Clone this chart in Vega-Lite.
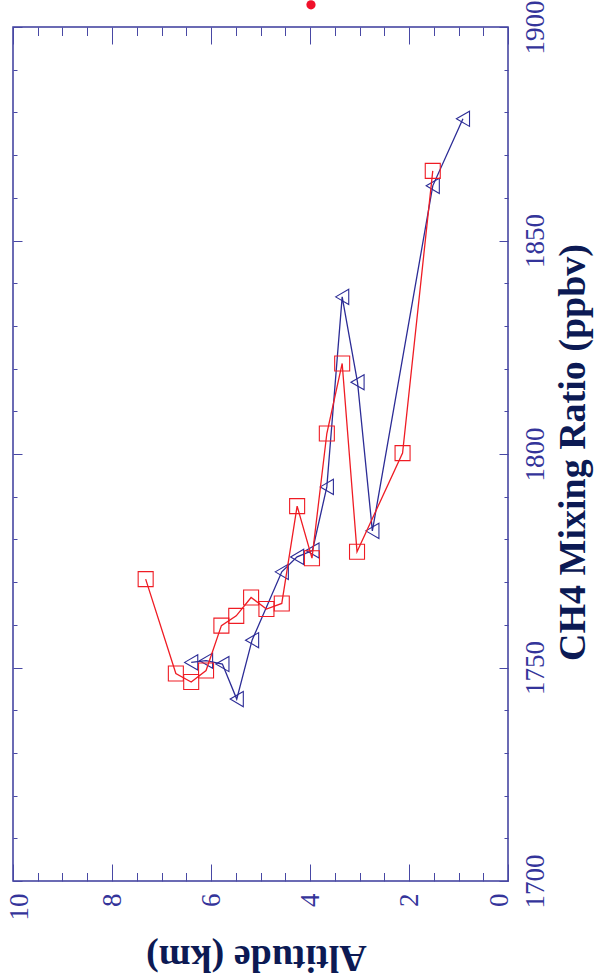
{
  "$schema": "https://vega.github.io/schema/vega-lite/v6.json",
  "width": 495,
  "height": 854,
  "autosize": {"type": "none"},
  "padding": {"left": 13, "top": 27, "right": 89, "bottom": 97},
  "background": "white",
  "config": {
    "view": {"stroke": "#3b3b9c", "strokeWidth": 1.5},
    "axis": {
      "grid": false,
      "domain": false,
      "labelFont": "Liberation Serif",
      "labelFontSize": 27,
      "labelColor": "#34349a",
      "labelFlush": false,
      "labelOverlap": false,
      "titleFont": "Liberation Serif",
      "titleFontSize": 38,
      "titleFontWeight": "bold",
      "titleColor": "#0c1a54",
      "tickColor": "#4848a4",
      "tickWidth": 1
    }
  },
  "datasets": {
    "red": [
      {"alt": 7.32, "ch4": 1770.7},
      {"alt": 6.71, "ch4": 1748.6},
      {"alt": 6.40, "ch4": 1746.6},
      {"alt": 6.10, "ch4": 1749.3},
      {"alt": 5.79, "ch4": 1759.8},
      {"alt": 5.49, "ch4": 1762.1},
      {"alt": 5.19, "ch4": 1766.4},
      {"alt": 4.88, "ch4": 1763.7},
      {"alt": 4.57, "ch4": 1765.0},
      {"alt": 4.26, "ch4": 1787.8},
      {"alt": 3.96, "ch4": 1775.6},
      {"alt": 3.66, "ch4": 1804.8},
      {"alt": 3.35, "ch4": 1821.2},
      {"alt": 3.05, "ch4": 1777.1},
      {"alt": 2.13, "ch4": 1800.2},
      {"alt": 1.52, "ch4": 1866.3}
    ],
    "blue": [
      {"alt": 6.40, "ch4": 1751.2},
      {"alt": 6.10, "ch4": 1751.6},
      {"alt": 5.77, "ch4": 1750.8},
      {"alt": 5.48, "ch4": 1742.6},
      {"alt": 5.17, "ch4": 1756.4},
      {"alt": 4.57, "ch4": 1772.4},
      {"alt": 4.26, "ch4": 1775.9},
      {"alt": 3.95, "ch4": 1777.4},
      {"alt": 3.66, "ch4": 1792.3},
      {"alt": 3.35, "ch4": 1836.8},
      {"alt": 3.04, "ch4": 1816.8},
      {"alt": 2.74, "ch4": 1782.0},
      {"alt": 1.52, "ch4": 1862.8},
      {"alt": 0.91, "ch4": 1878.5}
    ],
    "marker": [
      {"alt": 3.98, "ch4": 1905.2}
    ]
  },
  "layer": [
    {
      "data": {"name": "blue"},
      "mark": {"type": "line", "color": "#2c2c96", "strokeWidth": 1.3},
      "encoding": {
        "x": {
          "field": "alt", "type": "quantitative",
          "scale": {"domain": [0, 10], "reverse": true, "nice": false, "zero": false},
          "axis": {
            "orient": "bottom",
            "values": [0, 2, 4, 6, 8, 10],
            "format": "d",
            "ticks": false,
            "labelAngle": -90,
            "labelAlign": "right",
            "labelBaseline": "middle",
            "labelPadding": 12,
            "labelOffset": {"condition": [{"test": "datum.value === 0", "value": -9}, {"test": "datum.value === 10", "value": 6}], "value": 0},
            "title": "Altitude (km)",
            "titleAngle": 180,
            "titleAlign": "center",
            "titleBaseline": "alphabetic",
            "titleX": 243,
            "titleY": 64
          }
        },
        "y": {
          "field": "ch4", "type": "quantitative",
          "scale": {"domain": [1700, 1900], "nice": false, "zero": false},
          "axis": {
            "orient": "right",
            "values": [1700, 1750, 1800, 1850, 1900],
            "format": "d",
            "ticks": false,
            "labelAngle": -90,
            "labelAlign": "center",
            "labelBaseline": "top",
            "labelPadding": 14,
            "title": "CH4 Mixing Ratio (ppbv)",
            "titleAngle": -90,
            "titleAlign": "center",
            "titleBaseline": "alphabetic",
            "titleX": 76,
            "titleY": 425
          }
        }
      }
    },
    {
      "data": {"name": "blue"},
      "mark": {"type": "point", "shape": "triangle-left", "size": 230, "filled": false, "color": "#2c2c96", "strokeWidth": 1.1, "opacity": 1},
      "encoding": {
        "x": {
          "field": "alt", "type": "quantitative",
          "axis": {"orient": "bottom", "values": [0, 2, 4, 6, 8, 10], "labels": false, "tickSize": -17, "title": null}
        },
        "y": {
          "field": "ch4", "type": "quantitative",
          "axis": {"orient": "right", "values": [1700, 1750, 1800, 1850, 1900], "labels": false, "tickSize": -9, "title": null}
        }
      }
    },
    {
      "data": {"name": "red"},
      "mark": {"type": "line", "color": "#ef1c24", "strokeWidth": 1.3},
      "encoding": {
        "x": {
          "field": "alt", "type": "quantitative",
          "axis": {"orient": "bottom", "values": [0.5, 1, 1.5, 2.5, 3, 3.5, 4.5, 5, 5.5, 6.5, 7, 7.5, 8.5, 9, 9.5], "labels": false, "tickSize": -8.5, "title": null}
        },
        "y": {
          "field": "ch4", "type": "quantitative",
          "axis": {"orient": "right", "values": [1710, 1720, 1730, 1740, 1760, 1770, 1780, 1790, 1810, 1820, 1830, 1840, 1860, 1870, 1880, 1890], "labels": false, "tickSize": -4, "title": null}
        }
      }
    },
    {
      "data": {"name": "red"},
      "mark": {"type": "point", "shape": "square", "size": 225, "filled": false, "color": "#ef1c24", "strokeWidth": 1.1, "opacity": 1},
      "encoding": {
        "x": {
          "field": "alt", "type": "quantitative",
          "axis": {"orient": "top", "values": [0, 2, 4, 6, 8, 10], "labels": false, "tickSize": -17, "title": null}
        },
        "y": {
          "field": "ch4", "type": "quantitative",
          "axis": {"orient": "left", "values": [1700, 1750, 1800, 1850, 1900], "labels": false, "tickSize": -9, "title": null}
        }
      }
    },
    {
      "data": {"name": "marker"},
      "mark": {"type": "circle", "size": 85, "color": "#f0102a", "opacity": 1},
      "encoding": {
        "x": {
          "field": "alt", "type": "quantitative",
          "axis": {"orient": "top", "values": [0.5, 1, 1.5, 2.5, 3, 3.5, 4.5, 5, 5.5, 6.5, 7, 7.5, 8.5, 9, 9.5], "labels": false, "tickSize": -8.5, "title": null}
        },
        "y": {
          "field": "ch4", "type": "quantitative",
          "axis": {"orient": "left", "values": [1710, 1720, 1730, 1740, 1760, 1770, 1780, 1790, 1810, 1820, 1830, 1840, 1860, 1870, 1880, 1890], "labels": false, "tickSize": -4, "title": null}
        }
      }
    }
  ],
  "resolve": {"axis": {"x": "independent", "y": "independent"}}
}
